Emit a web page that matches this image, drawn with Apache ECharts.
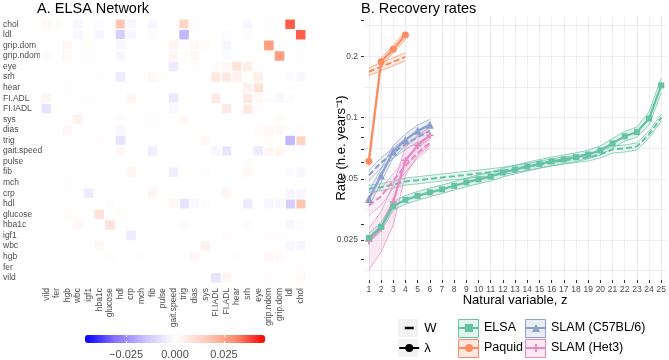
<!DOCTYPE html>
<html>
<head>
<meta charset="utf-8">
<script src="https://cdn.jsdelivr.net/npm/echarts@6/dist/echarts.min.js"></script>
<style>
  html, body { margin: 0; padding: 0; background: #fff; }
  #chart { width: 669px; height: 360px; }
</style>
</head>
<body>
<div id="chart"></div>
<script>
  // ---- panel A: ELSA network (row variables from top to bottom)
  const vars = ['chol', 'ldl', 'grip.dom', 'grip.ndom', 'eye', 'srh', 'hear', 'FI.ADL', 'FI.IADL', 'sys',
    'dias', 'trig', 'gait.speed', 'pulse', 'fib', 'mch', 'crp', 'hdl', 'glucose', 'hba1c',
    'igf1', 'wbc', 'hgb', 'fer', 'vild'];
  const axisOrder = vars.slice().reverse();

  // edge weights, mirrored below
  const edges = [
    ['chol', 'ldl', 0.036], ['chol', 'hdl', 0.017], ['chol', 'trig', 0.013], ['chol', 'vild', 0.002],
    ['chol', 'fer', 0.001], ['chol', 'wbc', -0.002], ['chol', 'hba1c', -0.001], ['chol', 'crp', -0.002],
    ['chol', 'fib', -0.002], ['chol', 'dias', 0.001], ['chol', 'srh', -0.002], ['chol', 'grip.ndom', 0.001],
    ['ldl', 'wbc', -0.002], ['ldl', 'hba1c', -0.002], ['ldl', 'hdl', -0.012], ['ldl', 'crp', -0.002],
    ['ldl', 'fib', -0.001], ['ldl', 'trig', -0.017], ['ldl', 'FI.ADL', -0.001], ['ldl', 'srh', -0.001],
    ['grip.dom', 'grip.ndom', 0.027], ['grip.dom', 'hgb', 0.002], ['grip.dom', 'igf1', 0.001],
    ['grip.dom', 'hdl', -0.002], ['grip.dom', 'gait.speed', 0.003], ['grip.dom', 'dias', 0.002],
    ['grip.dom', 'sys', 0.001], ['grip.dom', 'FI.ADL', -0.002],
    ['grip.ndom', 'vild', 0.001], ['grip.ndom', 'hgb', 0.002], ['grip.ndom', 'igf1', 0.001],
    ['grip.ndom', 'hdl', -0.002], ['grip.ndom', 'gait.speed', 0.003], ['grip.ndom', 'trig', 0.001],
    ['grip.ndom', 'dias', 0.002], ['grip.ndom', 'FI.ADL', -0.001],
    ['eye', 'gait.speed', -0.005], ['eye', 'dias', 0.001], ['eye', 'FI.IADL', 0.001], ['eye', 'FI.ADL', 0.002],
    ['eye', 'hear', 0.0085], ['eye', 'srh', 0.005],
    ['srh', 'hba1c', 0.001], ['srh', 'hdl', -0.005], ['srh', 'fib', 0.002], ['srh', 'pulse', 0.001],
    ['srh', 'FI.IADL', 0.007], ['srh', 'FI.ADL', 0.007], ['srh', 'hear', 0.004],
    ['hear', 'hgb', 0.001],
    ['FI.ADL', 'vild', 0.003], ['FI.ADL', 'igf1', 0.001], ['FI.ADL', 'crp', 0.003],
    ['FI.ADL', 'gait.speed', -0.006], ['FI.ADL', 'FI.IADL', 0.006],
    ['FI.IADL', 'vild', -0.007], ['FI.IADL', 'gait.speed', -0.002],
    ['sys', 'wbc', 0.004], ['sys', 'hdl', 0.001], ['sys', 'fib', 0.001], ['sys', 'trig', 0.002],
    ['dias', 'hgb', 0.002], ['dias', 'hdl', -0.002],
    ['trig', 'hba1c', 0.001], ['trig', 'hdl', -0.007],
    ['gait.speed', 'hdl', 0.002], ['gait.speed', 'fib', -0.004],
    ['fib', 'crp', 0.003], ['mch', 'hgb', 0.001], ['crp', 'igf1', -0.005],
    ['hdl', 'glucose', 0.001], ['glucose', 'hgb', 0.001], ['glucose', 'hba1c', 0.0085], ['hba1c', 'wbc', 0.002]
  ];
  const colorbarTicks = [-0.025, 0, 0.025];

  // ---- panel B: recovery rates
  const zElsa = [1, 2, 3, 4, 5, 6, 7, 8, 9, 10, 11, 12, 13, 14, 15, 16, 17, 18, 19, 20, 21, 22, 23, 24, 25];
  const zPaquid = [1, 2, 3, 4];
  const zSlam = [1, 2, 3, 4, 5, 6];

  const elsaLambda = [0.0256, 0.029, 0.0368, 0.0394, 0.0412, 0.0429, 0.0444, 0.0462, 0.048, 0.0497, 0.0513, 0.0537, 0.0556,
    0.0574, 0.0592, 0.0609, 0.0623, 0.0639, 0.0659, 0.069, 0.0747, 0.0809, 0.0849, 0.099, 0.144];
  const elsaLambdaLo = [0.0243, 0.0276, 0.035, 0.0375, 0.0392, 0.0408, 0.0423, 0.044, 0.0457, 0.0473, 0.0488, 0.0511, 0.0529,
    0.0546, 0.0564, 0.058, 0.0593, 0.0608, 0.0627, 0.0655, 0.0707, 0.0765, 0.0801, 0.092, 0.132];
  const elsaLambdaHi = [0.027, 0.0305, 0.0387, 0.0414, 0.0433, 0.0451, 0.0466, 0.0485, 0.0504, 0.0522, 0.0539, 0.0564, 0.0584,
    0.0603, 0.0622, 0.064, 0.0655, 0.0671, 0.0692, 0.0726, 0.079, 0.0855, 0.0899, 0.107, 0.157];
  const elsaW = [0.0447, 0.0455, 0.0469, 0.0485, 0.0492, 0.050, 0.0508, 0.0515, 0.0523, 0.0531, 0.0539, 0.0548, 0.0559,
    0.0572, 0.0588, 0.0602, 0.0616, 0.0626, 0.0637, 0.0659, 0.0698, 0.0705, 0.0722, 0.0827, 0.100];
  const elsaWLo = [0.0429, 0.0437, 0.045, 0.0466, 0.0472, 0.048, 0.0488, 0.0494, 0.0502, 0.051, 0.0517, 0.0526, 0.0537,
    0.0549, 0.0564, 0.0578, 0.0591, 0.0601, 0.0612, 0.0633, 0.067, 0.0677, 0.0693, 0.0794, 0.096];
  const elsaWHi = [0.0465, 0.0473, 0.0488, 0.0504, 0.0512, 0.052, 0.0528, 0.0536, 0.0544, 0.0552, 0.0561, 0.057, 0.0581,
    0.0595, 0.0612, 0.0626, 0.0641, 0.0651, 0.0662, 0.0685, 0.0726, 0.0733, 0.0751, 0.086, 0.104];

  const paquidLambda = [0.061, 0.188, 0.217, 0.255];
  const paquidLambdaLo = [0.058, 0.181, 0.208, 0.243];
  const paquidLambdaHi = [0.064, 0.196, 0.226, 0.267];
  const paquidW = [0.168, 0.178, 0.188, 0.199];
  const paquidWLo = [0.161, 0.17, 0.18, 0.19];
  const paquidWHi = [0.176, 0.186, 0.197, 0.208];

  const c57Lambda = [0.0398, 0.0519, 0.0682, 0.0777, 0.0861, 0.0922];
  const c57LambdaLo = [0.0365, 0.048, 0.0635, 0.0725, 0.0805, 0.0865];
  const c57LambdaHi = [0.0435, 0.056, 0.073, 0.083, 0.092, 0.098];
  const c57W = [0.052, 0.060, 0.067, 0.074, 0.080, 0.086];
  const c57WLo = [0.049, 0.0565, 0.063, 0.0697, 0.0755, 0.081];
  const c57WHi = [0.055, 0.0635, 0.071, 0.0785, 0.085, 0.091];

  const het3Lambda = [0.0247, 0.0286, 0.0385, 0.0616, 0.073, 0.0818];
  const het3LambdaLo = [0.0178, 0.0218, 0.0296, 0.052, 0.065, 0.073];
  const het3LambdaHi = [0.0286, 0.0345, 0.0468, 0.0715, 0.0818, 0.0896];
  const het3W = [0.037, 0.041, 0.049, 0.058, 0.067, 0.075];
  const het3WLo = [0.033, 0.037, 0.045, 0.054, 0.063, 0.071];
  const het3WHi = [0.041, 0.045, 0.053, 0.062, 0.071, 0.079];

  const zTicks = zElsa;
  const yLabelVals = [0.025, 0.05, 0.1, 0.2];
  const yTickVals = [0.02, 0.025, 0.03, 0.05, 0.06, 0.07, 0.08, 0.09, 0.1, 0.2, 0.3];
  const yGridVals = [0.0177, 0.025, 0.0354, 0.05, 0.0707, 0.1, 0.1414, 0.2, 0.283];

  const TEAL = '#66c2a5', ORANGE = '#fc8d62', BLUE = '#8da0cb', PINK = '#e78ac3';
  const PLUS = 'path://M3,0H5V3H8V5H5V8H3V5H0V3H3Z';

  let chart = echarts.init(document.getElementById('chart'));

  // heatmap cells
  let cells = [];
  edges.forEach(e => {
    cells.push([axisOrder.indexOf(e[1]), axisOrder.indexOf(e[0]), e[2]]);
    cells.push([axisOrder.indexOf(e[0]), axisOrder.indexOf(e[1]), e[2]]);
  });

  function rgba(hex, a) {
    let n = parseInt(hex.slice(1), 16);
    return 'rgba(' + (n >> 16) + ',' + ((n >> 8) & 255) + ',' + (n & 255) + ',' + a + ')';
  }

  function band(xs, lo, hi, color, alpha) {
    return {
      type: 'custom', xAxisIndex: 1, yAxisIndex: 1, z: 1, silent: true,
      data: xs.map((x, i) => [x, lo[i], hi[i]]),
      encode: { x: 0, y: [1, 2] },
      renderItem: function (params, api) {
        if (params.dataIndex !== 0) return;
        let up = xs.map((x, i) => api.coord([x, hi[i]]));
        let dn = xs.map((x, i) => api.coord([x, lo[i]]));
        return {
          type: 'group', children: [
            { type: 'polygon', shape: { points: up.concat(dn.slice().reverse()) }, style: { fill: rgba(color, alpha) } },
            { type: 'polyline', shape: { points: up }, style: { stroke: color, lineWidth: 0.7, fill: null } },
            { type: 'polyline', shape: { points: dn }, style: { stroke: color, lineWidth: 0.7, fill: null } }
          ]
        };
      }
    };
  }

  function line(name, xs, ys, color, dashed, symbol, size) {
    return {
      type: 'line', name: name, xAxisIndex: 1, yAxisIndex: 1,
      data: xs.map((x, i) => [x, ys[i]]),
      color: color,
      symbol: dashed ? 'none' : symbol,
      symbolSize: size,
      showSymbol: !dashed,
      z: dashed ? 2 : 3,
      silent: true,
      lineStyle: { width: dashed ? 2 : 2.2, type: dashed ? [6, 3] : 'solid' },
      itemStyle: { color: color }
    };
  }

  const labelColor = '#4d4d4d';

  let option = {
    animation: false,
    textStyle: { fontFamily: 'Liberation Sans, Arial, sans-serif' },
    title: [
      { text: 'A. ELSA Network', left: 37, top: 1, padding: 0, textStyle: { fontSize: 14.5, fontWeight: 'normal', color: '#000' } },
      { text: 'B. Recovery rates', left: 361, top: 1, padding: 0, textStyle: { fontSize: 14.5, fontWeight: 'normal', color: '#000' } }
    ],
    grid: [
      { left: 38, top: 19, width: 268, height: 264 },
      { left: 364, top: 16, right: 2, bottom: 80 },
      { left: 85, top: 335, width: 180, height: 8 }
    ],
    xAxis: [
      {
        type: 'category', gridIndex: 0, data: axisOrder,
        axisLine: { show: false }, axisTick: { show: false }, splitLine: { show: false },
        axisLabel: { rotate: 90, interval: 0, fontSize: 8.5, color: labelColor, margin: 5 }
      },
      {
        type: 'value', gridIndex: 1, min: 0.6, max: 25.4,
        axisLine: { show: false },
        axisTick: { show: true, length: 3, lineStyle: { color: '#333' }, customValues: zTicks },
        axisLabel: { customValues: zTicks, fontSize: 8.5, color: labelColor, margin: 5 },
        splitLine: { show: true, lineStyle: { color: '#ebebeb', width: 0.8 } },
        name: 'Natural variable, z', nameLocation: 'middle', nameGap: 14, nameMoveOverlap: false,
        nameTextStyle: { fontSize: 13, color: '#000', verticalAlign: 'top' }
      },
      {
        type: 'value', gridIndex: 2, min: -0.046, max: 0.046, z: 10,
        axisLine: { show: false },
        axisTick: { show: true, inside: true, length: 2, lineStyle: { color: '#fff', width: 1 }, customValues: colorbarTicks },
        axisLabel: {
          customValues: colorbarTicks, fontSize: 11, color: labelColor, margin: 6,
          formatter: v => (v < 0 ? '\u2212' : '') + Math.abs(v).toFixed(3)
        },
        splitLine: { show: false }
      },
      {
        type: 'value', gridIndex: 2, position: 'top', min: -0.046, max: 0.046, z: 10,
        axisLine: { show: false },
        axisTick: { show: true, inside: true, length: 2, lineStyle: { color: '#fff', width: 1 }, customValues: colorbarTicks },
        axisLabel: { show: false }, splitLine: { show: false }
      }
    ],
    yAxis: [
      {
        type: 'category', gridIndex: 0, data: axisOrder,
        axisLine: { show: false }, axisTick: { show: false }, splitLine: { show: false },
        axisLabel: { interval: 0, align: 'left', fontSize: 8.5, color: labelColor, margin: 38 }
      },
      {
        type: 'log', logBase: 10, gridIndex: 1, min: 0.0159, max: 0.316, position: 'left',
        axisLine: { show: false },
        axisTick: { show: true, length: 3, lineStyle: { color: '#333' }, customValues: yTickVals },
        axisLabel: { customValues: yLabelVals, fontSize: 8.5, color: labelColor, margin: 6, formatter: v => String(+(+v).toPrecision(3)) },
        splitLine: { show: false },
        name: 'Rate (h.e. years\u207B\u00B9)', nameLocation: 'middle', nameGap: 16, nameMoveOverlap: false,
        nameTextStyle: { fontSize: 13, color: '#000' }
      },
      {
        type: 'log', logBase: 10, gridIndex: 1, min: 0.0159, max: 0.316, position: 'left',
        axisLine: { show: false },
        axisTick: { show: false, customValues: yGridVals },
        axisLabel: { show: false },
        splitLine: { show: true, lineStyle: { color: '#ebebeb', width: 0.8 } }
      },
      { type: 'value', gridIndex: 2, show: false, min: 0, max: 1 }
    ],
    visualMap: {
      type: 'continuous', seriesIndex: 0, min: -0.046, max: 0.046, orient: 'horizontal',
      left: 85, top: 335, itemWidth: 8, itemHeight: 180, padding: 0, calculable: false,
      hoverLink: false, text: null, showLabel: false,
      inRange: { color: ['#0000ff', '#8570ff', '#cbc0ff', '#ffffff', '#ffcdbd', '#ff8f6f', '#ff0000'] }
    },
    legend: [
      {
        data: [
          { name: 'W', itemStyle: { opacity: 0 }, lineStyle: { type: [9, 11], dashOffset: 14.5, width: 2.5 } },
          { name: '\u03BB' }
        ],
        orient: 'vertical', left: 398, top: 320, padding: 0, itemWidth: 20, itemHeight: 10, itemGap: 4,
        selectedMode: false, textStyle: { fontSize: 13, color: '#000', lineHeight: 16 }
      },
      {
        data: ['ELSA', 'Paquid'],
        orient: 'vertical', left: 458, top: 320, padding: 0, itemWidth: 20, itemHeight: 10, itemGap: 4,
        selectedMode: false, textStyle: { fontSize: 12.5, color: '#000', lineHeight: 16 }
      },
      {
        data: ['SLAM (C57BL/6)', 'SLAM (Het3)'],
        orient: 'vertical', left: 525, top: 320, padding: 0, itemWidth: 20, itemHeight: 10, itemGap: 4,
        selectedMode: false, textStyle: { fontSize: 12.5, color: '#000', lineHeight: 16 }
      }
    ],
    graphic: [
      { type: 'rect', left: 398, top: 319, shape: { width: 20, height: 18 }, style: { fill: '#f2f2f2' } },
      { type: 'rect', left: 398, top: 339, shape: { width: 20, height: 18 }, style: { fill: '#f2f2f2' } },
      { type: 'rect', left: 458, top: 319, shape: { width: 20, height: 18 }, style: { fill: rgba(TEAL, 0.2), stroke: TEAL, lineWidth: 1 } },
      { type: 'rect', left: 458, top: 339, shape: { width: 20, height: 18 }, style: { fill: rgba(ORANGE, 0.2), stroke: ORANGE, lineWidth: 1 } },
      { type: 'rect', left: 525, top: 319, shape: { width: 20, height: 18 }, style: { fill: rgba(BLUE, 0.2), stroke: BLUE, lineWidth: 1 } },
      { type: 'rect', left: 525, top: 339, shape: { width: 20, height: 18 }, style: { fill: rgba(PINK, 0.2), stroke: PINK, lineWidth: 1 } }
    ],
    series: [
      {
        type: 'heatmap', xAxisIndex: 0, yAxisIndex: 0, data: cells, silent: true,
        itemStyle: { borderColor: '#fff', borderWidth: 1.5 }
      },
      band(zElsa, elsaWLo, elsaWHi, TEAL, 0.12),
      band(zElsa, elsaLambdaLo, elsaLambdaHi, TEAL, 0.18),
      band(zPaquid, paquidWLo, paquidWHi, ORANGE, 0.15),
      band(zPaquid, paquidLambdaLo, paquidLambdaHi, ORANGE, 0.18),
      band(zSlam, c57WLo, c57WHi, BLUE, 0.12),
      band(zSlam, c57LambdaLo, c57LambdaHi, BLUE, 0.18),
      band(zSlam, het3WLo, het3WHi, PINK, 0.12),
      band(zSlam, het3LambdaLo, het3LambdaHi, PINK, 0.2),
      line('ELSA W', zElsa, elsaW, TEAL, true),
      line('Paquid W', zPaquid, paquidW, ORANGE, true),
      line('C57 W', zSlam, c57W, BLUE, true),
      line('Het3 W', zSlam, het3W, PINK, true),
      line('SLAM (C57BL/6)', zSlam, c57Lambda, BLUE, false, 'triangle', 8),
      line('SLAM (Het3)', zSlam, het3Lambda, PINK, false, PLUS, 7),
      line('ELSA', zElsa, elsaLambda, TEAL, false, 'rect', 6),
      line('Paquid', zPaquid, paquidLambda, ORANGE, false, 'circle', 7),
      // key-only series for the line type legend
      { type: 'line', name: 'W', xAxisIndex: 1, yAxisIndex: 1, data: [], color: '#000', symbol: 'none', lineStyle: { width: 2.5, type: 'dashed' } },
      { type: 'line', name: '\u03BB', xAxisIndex: 1, yAxisIndex: 1, data: [], color: '#000', symbol: 'circle', lineStyle: { width: 2 } }
    ]
  };
  chart.setOption(option);
</script>
</body>
</html>
